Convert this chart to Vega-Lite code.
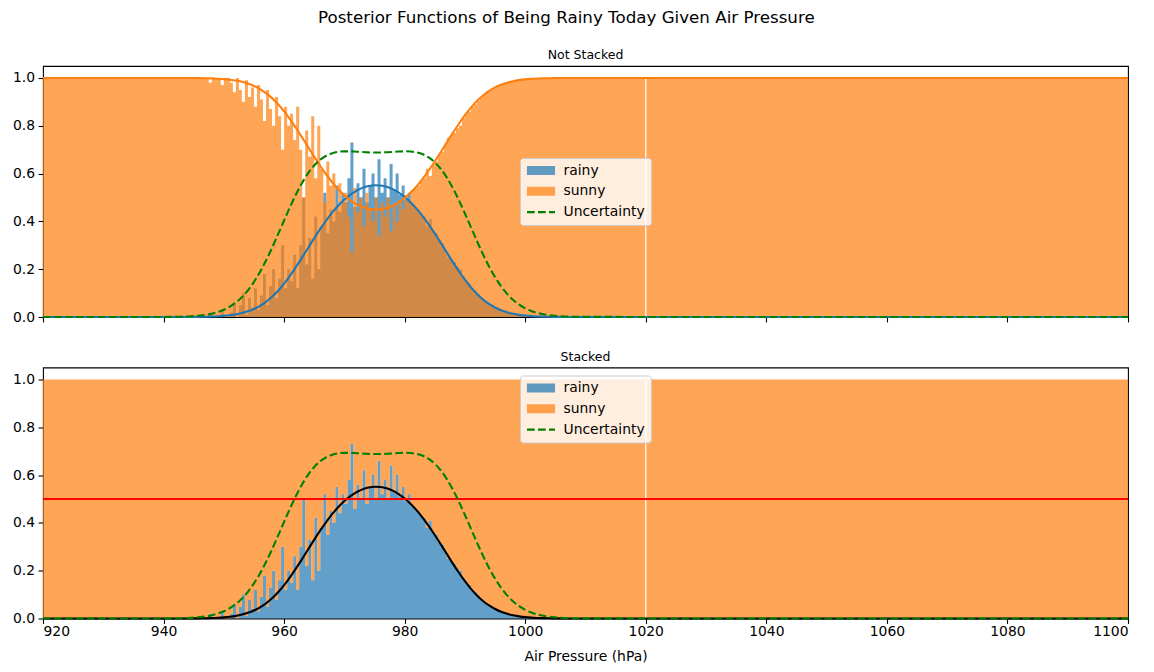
{
  "$schema": "https://vega.github.io/schema/vega-lite/v6.json",
  "padding": {"left": 11, "top": 9, "right": 10, "bottom": 8},
  "title": {"text": "Posterior Functions of Being Rainy Today Given Air Pressure", "fontSize": 16.7, "anchor": "middle", "dx": -6, "offset": 22},
  "datasets": {
    "bins": [
      {"a": 920, "rainy": 0, "sunny": 1},
      {"a": 945, "rainy": 0, "sunny": 1},
      {"a": 945.5, "rainy": 0, "sunny": 1},
      {"a": 946, "rainy": 0, "sunny": 1},
      {"a": 946.5, "rainy": 0, "sunny": 1},
      {"a": 947, "rainy": 0, "sunny": 1},
      {"a": 947.5, "rainy": 0.02, "sunny": 0.98},
      {"a": 948, "rainy": 0, "sunny": 1},
      {"a": 948.5, "rainy": 0, "sunny": 1},
      {"a": 949, "rainy": 0, "sunny": 1},
      {"a": 949.5, "rainy": 0.03, "sunny": 0.97},
      {"a": 950, "rainy": 0, "sunny": 1},
      {"a": 950.5, "rainy": 0, "sunny": 1},
      {"a": 951, "rainy": 0.02, "sunny": 0.98},
      {"a": 951.5, "rainy": 0.06, "sunny": 0.94},
      {"a": 952, "rainy": 0, "sunny": 1},
      {"a": 952.5, "rainy": 0.05, "sunny": 0.95},
      {"a": 953, "rainy": 0.1, "sunny": 0.9},
      {"a": 953.5, "rainy": 0.01, "sunny": 0.99},
      {"a": 954, "rainy": 0.08, "sunny": 0.92},
      {"a": 954.5, "rainy": 0.04, "sunny": 0.96},
      {"a": 955, "rainy": 0.12, "sunny": 0.88},
      {"a": 955.5, "rainy": 0.03, "sunny": 0.97},
      {"a": 956, "rainy": 0.09, "sunny": 0.91},
      {"a": 956.5, "rainy": 0.18, "sunny": 0.82},
      {"a": 957, "rainy": 0.05, "sunny": 0.95},
      {"a": 957.5, "rainy": 0.13, "sunny": 0.87},
      {"a": 958, "rainy": 0.2, "sunny": 0.8},
      {"a": 958.5, "rainy": 0.08, "sunny": 0.92},
      {"a": 959, "rainy": 0.16, "sunny": 0.84},
      {"a": 959.5, "rainy": 0.3, "sunny": 0.7},
      {"a": 960, "rainy": 0.12, "sunny": 0.88},
      {"a": 960.5, "rainy": 0.2, "sunny": 0.8},
      {"a": 961, "rainy": 0.15, "sunny": 0.85},
      {"a": 961.5, "rainy": 0.26, "sunny": 0.74},
      {"a": 962, "rainy": 0.12, "sunny": 0.88},
      {"a": 962.5, "rainy": 0.3, "sunny": 0.7},
      {"a": 963, "rainy": 0.5, "sunny": 0.5},
      {"a": 963.5, "rainy": 0.22, "sunny": 0.78},
      {"a": 964, "rainy": 0.33, "sunny": 0.67},
      {"a": 964.5, "rainy": 0.16, "sunny": 0.84},
      {"a": 965, "rainy": 0.42, "sunny": 0.58},
      {"a": 965.5, "rainy": 0.2, "sunny": 0.8},
      {"a": 966, "rainy": 0.38, "sunny": 0.62},
      {"a": 966.5, "rainy": 0.52, "sunny": 0.48},
      {"a": 967, "rainy": 0.35, "sunny": 0.65},
      {"a": 967.5, "rainy": 0.45, "sunny": 0.55},
      {"a": 968, "rainy": 0.4, "sunny": 0.6},
      {"a": 968.5, "rainy": 0.55, "sunny": 0.45},
      {"a": 969, "rainy": 0.44, "sunny": 0.56},
      {"a": 969.5, "rainy": 0.52, "sunny": 0.48},
      {"a": 970, "rainy": 0.48, "sunny": 0.52},
      {"a": 970.5, "rainy": 0.58, "sunny": 0.42},
      {"a": 971, "rainy": 0.73, "sunny": 0.27},
      {"a": 971.5, "rainy": 0.46, "sunny": 0.54},
      {"a": 972, "rainy": 0.56, "sunny": 0.44},
      {"a": 972.5, "rainy": 0.5, "sunny": 0.5},
      {"a": 973, "rainy": 0.62, "sunny": 0.38},
      {"a": 973.5, "rainy": 0.48, "sunny": 0.52},
      {"a": 974, "rainy": 0.55, "sunny": 0.45},
      {"a": 974.5, "rainy": 0.6, "sunny": 0.4},
      {"a": 975, "rainy": 0.5, "sunny": 0.5},
      {"a": 975.5, "rainy": 0.66, "sunny": 0.34},
      {"a": 976, "rainy": 0.52, "sunny": 0.48},
      {"a": 976.5, "rainy": 0.58, "sunny": 0.42},
      {"a": 977, "rainy": 0.5, "sunny": 0.5},
      {"a": 977.5, "rainy": 0.64, "sunny": 0.36},
      {"a": 978, "rainy": 0.53, "sunny": 0.47},
      {"a": 978.5, "rainy": 0.6, "sunny": 0.4},
      {"a": 979, "rainy": 0.51, "sunny": 0.49},
      {"a": 979.5, "rainy": 0.55, "sunny": 0.45},
      {"a": 980, "rainy": 0.49, "sunny": 0.51},
      {"a": 980.5, "rainy": 0.52, "sunny": 0.48},
      {"a": 981, "rainy": 0.47, "sunny": 0.53},
      {"a": 981.5, "rainy": 0.46, "sunny": 0.54},
      {"a": 982, "rainy": 0.45, "sunny": 0.55},
      {"a": 982.5, "rainy": 0.43, "sunny": 0.57},
      {"a": 983, "rainy": 0.42, "sunny": 0.58},
      {"a": 983.5, "rainy": 0.38, "sunny": 0.62},
      {"a": 984, "rainy": 0.41, "sunny": 0.59},
      {"a": 984.5, "rainy": 0.36, "sunny": 0.64},
      {"a": 985, "rainy": 0.35, "sunny": 0.65},
      {"a": 985.5, "rainy": 0.32, "sunny": 0.68},
      {"a": 986, "rainy": 0.31, "sunny": 0.69},
      {"a": 986.5, "rainy": 0.28, "sunny": 0.72},
      {"a": 987, "rainy": 0.25, "sunny": 0.75},
      {"a": 987.5, "rainy": 0.24, "sunny": 0.76},
      {"a": 988, "rainy": 0.23, "sunny": 0.77},
      {"a": 988.5, "rainy": 0.21, "sunny": 0.79},
      {"a": 989, "rainy": 0.2, "sunny": 0.8},
      {"a": 989.5, "rainy": 0.17, "sunny": 0.83},
      {"a": 990, "rainy": 0.15, "sunny": 0.85},
      {"a": 990.5, "rainy": 0.14, "sunny": 0.86},
      {"a": 991, "rainy": 0.12, "sunny": 0.88},
      {"a": 991.5, "rainy": 0.11, "sunny": 0.89},
      {"a": 992, "rainy": 0.095, "sunny": 0.905},
      {"a": 992.5, "rainy": 0.08, "sunny": 0.92},
      {"a": 993, "rainy": 0.07, "sunny": 0.93},
      {"a": 993.5, "rainy": 0.06, "sunny": 0.94},
      {"a": 994, "rainy": 0.05, "sunny": 0.95},
      {"a": 994.5, "rainy": 0.045, "sunny": 0.955},
      {"a": 995, "rainy": 0.035, "sunny": 0.965},
      {"a": 995.5, "rainy": 0.03, "sunny": 0.97},
      {"a": 996, "rainy": 0.025, "sunny": 0.975},
      {"a": 996.5, "rainy": 0.02, "sunny": 0.98},
      {"a": 997, "rainy": 0.018, "sunny": 0.982},
      {"a": 997.5, "rainy": 0.013, "sunny": 0.987},
      {"a": 998, "rainy": 0.01, "sunny": 0.99},
      {"a": 998.5, "rainy": 0.008, "sunny": 0.992},
      {"a": 999, "rainy": 0.006, "sunny": 0.994},
      {"a": 999.5, "rainy": 0.004, "sunny": 0.996},
      {"a": 1000, "rainy": 0.003, "sunny": 0.997},
      {"a": 1000.5, "rainy": 0.002, "sunny": 0.998},
      {"a": 1001, "rainy": 0, "sunny": 1},
      {"a": 1019.9, "rainy": 0, "sunny": 0},
      {"a": 1020.1, "rainy": 0, "sunny": 1},
      {"a": 1100, "rainy": 0, "sunny": 1}
    ],
    "curve": [
      {"x": 920, "p": 0, "q": 1, "u": 0},
      {"x": 940, "p": 0, "q": 1, "u": 0.0003},
      {"x": 941, "p": 0, "q": 1, "u": 0.0005},
      {"x": 942, "p": 0.0001, "q": 0.9999, "u": 0.0009},
      {"x": 943, "p": 0.0001, "q": 0.9999, "u": 0.0014},
      {"x": 944, "p": 0.0003, "q": 0.9997, "u": 0.0023},
      {"x": 945, "p": 0.0004, "q": 0.9996, "u": 0.0038},
      {"x": 946, "p": 0.0007, "q": 0.9993, "u": 0.0059},
      {"x": 947, "p": 0.0012, "q": 0.9988, "u": 0.0091},
      {"x": 948, "p": 0.0019, "q": 0.9981, "u": 0.0139},
      {"x": 949, "p": 0.0031, "q": 0.9969, "u": 0.0207},
      {"x": 950, "p": 0.0048, "q": 0.9952, "u": 0.0302},
      {"x": 951, "p": 0.0073, "q": 0.9927, "u": 0.0432},
      {"x": 952, "p": 0.011, "q": 0.989, "u": 0.0606},
      {"x": 953, "p": 0.0163, "q": 0.9837, "u": 0.0831},
      {"x": 954, "p": 0.0236, "q": 0.9764, "u": 0.1116},
      {"x": 955, "p": 0.0335, "q": 0.9665, "u": 0.1467},
      {"x": 956, "p": 0.0466, "q": 0.9534, "u": 0.1884},
      {"x": 957, "p": 0.0634, "q": 0.9366, "u": 0.2362},
      {"x": 958, "p": 0.0844, "q": 0.9156, "u": 0.2894},
      {"x": 959, "p": 0.11, "q": 0.89, "u": 0.3465},
      {"x": 960, "p": 0.1397, "q": 0.8603, "u": 0.4044},
      {"x": 961, "p": 0.1734, "q": 0.8266, "u": 0.4612},
      {"x": 962, "p": 0.2105, "q": 0.7895, "u": 0.5146},
      {"x": 963, "p": 0.2496, "q": 0.7504, "u": 0.5619},
      {"x": 964, "p": 0.2899, "q": 0.7101, "u": 0.602},
      {"x": 965, "p": 0.3298, "q": 0.6702, "u": 0.634},
      {"x": 966, "p": 0.3684, "q": 0.6316, "u": 0.6581},
      {"x": 967, "p": 0.4044, "q": 0.5956, "u": 0.6747},
      {"x": 968, "p": 0.4373, "q": 0.5627, "u": 0.6853},
      {"x": 969, "p": 0.4663, "q": 0.5337, "u": 0.6909},
      {"x": 970, "p": 0.4913, "q": 0.5087, "u": 0.693},
      {"x": 971, "p": 0.512, "q": 0.488, "u": 0.6929},
      {"x": 972, "p": 0.5282, "q": 0.4718, "u": 0.6916},
      {"x": 973, "p": 0.5402, "q": 0.4598, "u": 0.6899},
      {"x": 974, "p": 0.5477, "q": 0.4523, "u": 0.6886},
      {"x": 975, "p": 0.5509, "q": 0.4491, "u": 0.688},
      {"x": 976, "p": 0.5499, "q": 0.4501, "u": 0.6882},
      {"x": 977, "p": 0.5445, "q": 0.4555, "u": 0.6892},
      {"x": 978, "p": 0.5347, "q": 0.4653, "u": 0.6907},
      {"x": 979, "p": 0.5207, "q": 0.4793, "u": 0.6923},
      {"x": 980, "p": 0.5022, "q": 0.4978, "u": 0.6931},
      {"x": 981, "p": 0.4794, "q": 0.5206, "u": 0.6923},
      {"x": 982, "p": 0.4524, "q": 0.5476, "u": 0.6886},
      {"x": 983, "p": 0.4213, "q": 0.5787, "u": 0.6807},
      {"x": 984, "p": 0.3867, "q": 0.6133, "u": 0.6673},
      {"x": 985, "p": 0.3493, "q": 0.6507, "u": 0.647},
      {"x": 986, "p": 0.31, "q": 0.69, "u": 0.6191},
      {"x": 987, "p": 0.2697, "q": 0.7303, "u": 0.5829},
      {"x": 988, "p": 0.2298, "q": 0.7702, "u": 0.539},
      {"x": 989, "p": 0.1915, "q": 0.8085, "u": 0.4884},
      {"x": 990, "p": 0.156, "q": 0.844, "u": 0.4329},
      {"x": 991, "p": 0.1242, "q": 0.8758, "u": 0.3752},
      {"x": 992, "p": 0.0966, "q": 0.9034, "u": 0.3176},
      {"x": 993, "p": 0.0734, "q": 0.9266, "u": 0.2623},
      {"x": 994, "p": 0.0545, "q": 0.9455, "u": 0.2116},
      {"x": 995, "p": 0.0396, "q": 0.9604, "u": 0.1667},
      {"x": 996, "p": 0.0282, "q": 0.9718, "u": 0.1284},
      {"x": 997, "p": 0.0196, "q": 0.9804, "u": 0.0965},
      {"x": 998, "p": 0.0134, "q": 0.9866, "u": 0.0711},
      {"x": 999, "p": 0.009, "q": 0.991, "u": 0.0514},
      {"x": 1000, "p": 0.0059, "q": 0.9941, "u": 0.0363},
      {"x": 1001, "p": 0.0038, "q": 0.9962, "u": 0.0251},
      {"x": 1002, "p": 0.0024, "q": 0.9976, "u": 0.017},
      {"x": 1003, "p": 0.0015, "q": 0.9985, "u": 0.0113},
      {"x": 1004, "p": 0.0009, "q": 0.9991, "u": 0.0074},
      {"x": 1005, "p": 0.0006, "q": 0.9994, "u": 0.0048},
      {"x": 1006, "p": 0.0003, "q": 0.9997, "u": 0.003},
      {"x": 1007, "p": 0.0002, "q": 0.9998, "u": 0.0018},
      {"x": 1008, "p": 0.0001, "q": 0.9999, "u": 0.0011},
      {"x": 1009, "p": 0.0001, "q": 0.9999, "u": 0.0007},
      {"x": 1010, "p": 0, "q": 1, "u": 0.0004},
      {"x": 1100, "p": 0, "q": 1, "u": 0}
    ]
  },
  "spacing": 24.5,
  "resolve": {"scale": {"color": "independent"}, "legend": {"color": "independent"}},
  "vconcat": [
    {
      "width": 1085,
      "height": 251,
      "title": {"text": "Not Stacked"},
      "layer": [
        {
          "data": {"name": "bins"},
          "mark": {"type": "area", "opacity": 0.7, "interpolate": "step-after"},
          "encoding": {
            "x": {"field": "a", "type": "quantitative", "scale": {"domain": [920, 1100], "nice": false, "zero": false}, "axis": {"values": [920, 940, 960, 980, 1000, 1020, 1040, 1060, 1080, 1100], "labels": false, "title": null}},
            "y": {"field": "rainy", "type": "quantitative", "scale": {"domain": [0, 1.05], "nice": false}, "axis": {"values": [0, 0.2, 0.4, 0.6, 0.8, 1], "format": ".1f", "title": null}},
            "color": {
              "datum": "rainy",
              "scale": {"domain": ["rainy", "sunny", "Uncertainty"], "range": ["#1f77b4", "#ff7f0e", "green"]},
              "legend": {"orient": "none", "legendX": 477, "legendY": 92}
            }
          }
        },
        {
          "data": {"name": "bins"},
          "mark": {"type": "area", "opacity": 0.7, "interpolate": "step-after"},
          "encoding": {
            "x": {"field": "a", "type": "quantitative"},
            "y": {"field": "sunny", "type": "quantitative"},
            "color": {"datum": "sunny"}
          }
        },
        {
          "data": {"name": "curve"},
          "mark": {"type": "line", "color": "#1f77b4", "strokeWidth": 2.08, "interpolate": "monotone"},
          "encoding": {"x": {"field": "x", "type": "quantitative"}, "y": {"field": "p", "type": "quantitative"}}
        },
        {
          "data": {"name": "curve"},
          "mark": {"type": "line", "color": "#ff7f0e", "strokeWidth": 2.08, "interpolate": "monotone"},
          "encoding": {"x": {"field": "x", "type": "quantitative"}, "y": {"field": "q", "type": "quantitative"}}
        },
        {
          "data": {"name": "curve"},
          "mark": {"type": "line", "strokeWidth": 2.08, "strokeDash": [7.7, 3.3], "interpolate": "monotone"},
          "encoding": {"x": {"field": "x", "type": "quantitative"}, "y": {"field": "u", "type": "quantitative"}, "color": {"datum": "Uncertainty"}}
        }
      ]
    },
    {
      "width": 1085,
      "height": 251,
      "title": {"text": "Stacked"},
      "layer": [
        {
          "data": {"name": "bins"},
          "transform": [{"fold": ["rainy", "sunny"], "as": ["key", "frac"]}],
          "mark": {"type": "area", "opacity": 0.7, "interpolate": "step-after"},
          "encoding": {
            "x": {"field": "a", "type": "quantitative", "scale": {"domain": [920, 1100], "nice": false, "zero": false}, "axis": {"values": [920, 940, 960, 980, 1000, 1020, 1040, 1060, 1080, 1100], "format": "d", "labelPadding": 1, "titlePadding": 11.5, "title": "Air Pressure (hPa)"}},
            "y": {"field": "frac", "type": "quantitative", "stack": "zero", "scale": {"domain": [0, 1.05], "nice": false}, "axis": {"values": [0, 0.2, 0.4, 0.6, 0.8, 1], "format": ".1f", "title": null}},
            "order": {"field": "key", "sort": "ascending"},
            "color": {
              "field": "key",
              "type": "nominal",
              "scale": {"domain": ["rainy", "sunny", "Uncertainty"], "range": ["#1f77b4", "#ff7f0e", "green"]},
              "legend": {"orient": "none", "legendX": 477, "legendY": 8}
            }
          }
        },
        {
          "data": {"name": "curve"},
          "mark": {"type": "line", "color": "black", "strokeWidth": 2.08, "interpolate": "monotone"},
          "encoding": {"x": {"field": "x", "type": "quantitative"}, "y": {"field": "p", "type": "quantitative"}}
        },
        {
          "data": {"values": [{}]},
          "mark": {"type": "rule", "color": "red", "strokeWidth": 2.08},
          "encoding": {"y": {"datum": 0.5}}
        },
        {
          "data": {"name": "curve"},
          "mark": {"type": "line", "strokeWidth": 2.08, "strokeDash": [7.7, 3.3], "interpolate": "monotone"},
          "encoding": {"x": {"field": "x", "type": "quantitative"}, "y": {"field": "u", "type": "quantitative"}, "color": {"datum": "Uncertainty"}}
        }
      ]
    }
  ],
  "config": {
    "font": "DejaVu Sans",
    "view": {"stroke": "black", "strokeWidth": 1.1},
    "title": {"fontSize": 12.5, "fontWeight": "normal", "color": "black", "baseline": "alphabetic", "offset": 4.5},
    "axis": {
      "grid": false, "domain": false,
      "labelFontSize": 13.9, "labelColor": "black", "labelPadding": 3.5,
      "tickColor": "black", "tickSize": 4.9, "tickWidth": 1.1,
      "titleFontSize": 13.9, "titleFontWeight": "normal", "titleColor": "black", "titlePadding": 5
    },
    "legend": {
      "title": null,
      "fillColor": "rgba(255,255,255,0.8)", "strokeColor": "#cccccc", "cornerRadius": 3,
      "padding": 5.5, "labelFontSize": 13.9, "labelColor": "black", "labelOffset": 7,
      "symbolSize": 784, "clipHeight": 14, "rowPadding": 6.8,
      "symbolType": {"expr": "datum.value === 'Uncertainty' ? 'M-1,0H1' : 'M-0.93,-0.25H0.93V0.25H-0.93Z'"},
      "symbolDash": {"expr": "datum.value === 'Uncertainty' ? [7.7, 3.3] : [1, 0]"},
      "symbolStrokeWidth": 2.08,
      "symbolOpacity": {"expr": "datum.value === 'Uncertainty' ? 1 : 0.7"}
    }
  }
}
